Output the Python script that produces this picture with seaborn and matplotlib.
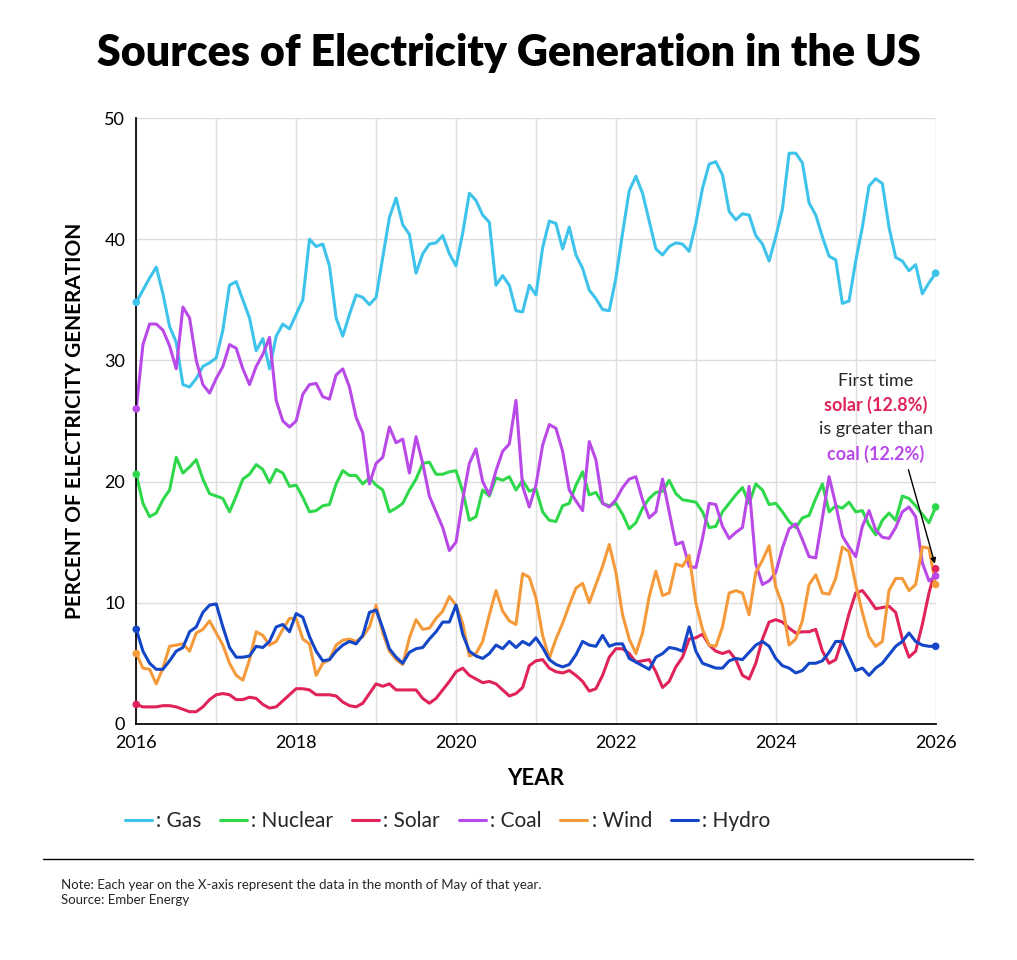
import numpy as np
import pandas as pd
import seaborn as sns
import matplotlib.pyplot as plt
from matplotlib.lines import Line2D

# monthly shares (%), Jan 2016 .. Jan 2026
gas = [34.8,35.8,36.8,37.7,35.5,32.8,31.5,28,27.8,28.5,29.5,29.8,
       30.2,32.5,36.2,36.5,35,33.5,30.8,31.8,29.3,32,33,32.6,
       33.8,35,40,39.4,39.6,37.8,33.5,32,33.8,35.4,35.2,34.6,
       35.2,38.5,41.8,43.4,41.2,40.4,37.2,38.8,39.6,39.7,40.3,38.8,
       37.8,40.5,43.8,43.2,42,41.4,36.2,37,36.2,34.1,34,36.2,
       35.4,39.3,41.5,41.3,39.2,41,38.7,37.6,35.8,35.1,34.2,34.1,
       36.8,40.5,44,45.2,43.8,41.5,39.2,38.7,39.4,39.7,39.6,39,
       41.3,44.2,46.2,46.4,45.3,42.3,41.6,42.1,42,40.3,39.6,38.2,
       40.2,42.5,47.1,47.1,46.3,43,42,40.2,38.6,38.3,34.7,34.9,
       38.2,41,44.4,45,44.6,41,38.5,38.2,37.4,37.9,35.5,36.4,
       37.2]
nuclear = [20.6,18.2,17.1,17.4,18.5,19.3,22,20.7,21.2,21.8,20.2,19,
           18.8,18.6,17.5,18.8,20.2,20.6,21.4,21,19.9,21,20.7,19.6,
           19.7,18.7,17.5,17.6,18,18.1,19.8,20.9,20.5,20.5,19.8,20.3,
           19.7,19.3,17.5,17.8,18.2,19.3,20.2,21.5,21.6,20.6,20.6,20.8,
           20.9,19.2,16.8,17.1,19.3,18.8,20.3,20.1,20.4,19.3,20.1,19.2,
           19.4,17.5,16.8,16.7,18,18.2,19.7,20.8,18.9,19.1,18.2,18,
           18.2,17.3,16.1,16.6,17.8,18.6,19.1,19.2,20.1,19,18.5,18.4,
           18.3,17.5,16.2,16.3,17.5,18.2,18.9,19.5,18.2,19.8,19.3,18.1,
           18.2,17.5,16.7,16.2,17,17.2,18.6,19.8,17.5,18,17.8,18.3,
           17.5,17.6,16.4,15.6,16.8,17.4,16.8,18.8,18.6,18,17.3,16.6,
           17.9]
solar = [1.6,1.4,1.4,1.4,1.5,1.5,1.4,1.2,1,1,1.4,2,
         2.4,2.5,2.4,2,2,2.2,2.1,1.6,1.3,1.4,1.9,2.4,
         2.9,2.9,2.8,2.4,2.4,2.4,2.3,1.8,1.5,1.4,1.7,2.5,
         3.3,3.1,3.3,2.8,2.8,2.8,2.8,2.1,1.7,2.1,2.8,3.5,
         4.3,4.6,4,3.7,3.4,3.5,3.3,2.8,2.3,2.5,3,4.8,
         5.2,5.3,4.6,4.3,4.2,4.4,4,3.5,2.7,2.9,4,5.5,
         6.2,6.2,5.8,5.1,5.2,5.3,4.3,3,3.5,4.7,5.5,7,
         7.1,7.4,6.5,6,5.8,6,5.3,4,3.7,5,7,8.4,
         8.6,8.4,7.9,7.5,7.6,7.6,7.8,6,5,5.3,7,9.1,
         10.8,11,10.3,9.5,9.6,9.7,9.2,7,5.5,6,8.2,10.8,
         12.8]
coal = [26,31.3,33,33,32.5,31.2,29.3,34.4,33.5,30,28,27.3,
        28.5,29.5,31.3,31,29.3,28,29.5,30.5,31.9,26.7,25,24.5,
        25,27.2,28,28.1,27,26.8,28.8,29.3,27.8,25.3,24,19.8,
        21.5,22,24.5,23.2,23.5,20.7,23.7,21.5,18.8,17.5,16.2,14.3,
        15,18.5,21.5,22.7,20,18.9,20.9,22.5,23.1,26.7,19.6,17.9,
        19.7,23,24.7,24.4,22.5,19.3,18.4,17.6,23.3,21.8,18.2,17.9,
        18.5,19.5,20.2,20.4,18.5,17,17.5,20.2,17.5,14.8,15,13,
        12.9,15.3,18.2,18.1,16.3,15.3,15.8,16.2,19.6,13.2,11.5,11.8,
        12.5,14.5,16.1,16.5,15.2,13.8,13.7,17,20.4,18.1,15.5,14.6,
        13.8,16.3,17.6,16,15.4,15.3,16.2,17.5,17.9,17.1,13.3,11.8,
        12.2]
wind = [5.8,4.6,4.5,3.3,4.6,6.4,6.5,6.6,6,7.5,7.8,8.5,
        7.5,6.5,5,4,3.6,5.3,7.6,7.3,6.5,6.8,7.8,8.7,
        8.7,7,6.6,4,5,5.3,6.5,6.9,7,6.8,7.2,8,
        9.8,7.5,6,5.3,4.9,7.1,8.6,7.8,7.9,8.7,9.3,10.5,
        9.8,8.3,5.6,5.8,6.8,9,11,9.3,8.5,8.2,12.4,12.1,
        10.4,7.3,5.4,7,8.3,9.8,11.2,11.6,10,11.5,13,14.8,
        12.5,9,7,5.8,7.5,10.5,12.6,10.6,10.8,13.2,13,13.9,
        10,7.8,6.5,6.4,8,10.8,11,10.8,9,12.5,13.5,14.7,
        11.3,9.8,6.5,7,8.5,11.5,12.3,10.8,10.7,12,14.6,14.2,
        11.5,9.2,7.2,6.4,6.8,11,12,12,11,11.5,14.6,14.5,
        11.5]
hydro = [7.8,6,5,4.5,4.5,5.2,6,6.3,7.6,8,9.2,9.8,
         9.9,8,6.3,5.5,5.5,5.6,6.4,6.3,6.8,8,8.2,7.6,
         9.1,8.8,7.2,6,5.2,5.3,6,6.5,6.8,6.6,7.3,9.2,
         9.4,7.9,6.2,5.5,5,5.9,6.2,6.3,7,7.6,8.4,8.4,
         9.8,7.4,6,5.6,5.4,5.8,6.5,6.2,6.8,6.3,6.8,6.5,
         7.1,6.3,5.3,4.9,4.7,4.9,5.7,6.8,6.5,6.4,7.3,6.4,
         6.6,6.6,5.4,5.1,4.8,4.5,5.5,5.8,6.3,6.2,6,8,
         6,5,4.8,4.6,4.6,5.2,5.4,5.3,5.9,6.5,6.8,6.4,
         5.4,4.8,4.6,4.2,4.4,5,5,5.2,5.9,6.8,6.8,5.6,
         4.4,4.6,4,4.6,5,5.7,6.4,6.8,7.5,6.8,6.5,6.4,
         6.4]

sources = ["Gas", "Nuclear", "Solar", "Coal", "Wind", "Hydro"]
series = [gas, nuclear, solar, coal, wind, hydro]
colors = {"Gas": "#3ec3ea", "Nuclear": "#2fd84a", "Solar": "#e0245a",
          "Coal": "#b94ae8", "Wind": "#f59a3a", "Hydro": "#1446c8"}

years = 2016 + np.arange(len(gas)) / 12
df = pd.concat([pd.DataFrame({"year": years, "pct": s, "source": n})
                for n, s in zip(sources, series)])

sns.set_theme(style="whitegrid")
plt.rcParams['font.family'] = ['Lato', 'DejaVu Sans']

fig = plt.figure(figsize=(10.17, 9.6), dpi=100)
ax = fig.add_axes([0.134, 0.246, 0.786, 0.631])
sns.lineplot(data=df, x="year", y="pct", hue="source", palette=colors,
             linewidth=2.2, ax=ax, legend=False)
ends = df[(df.year == years[0]) | (df.year == years[-1])]
dots = sns.scatterplot(data=ends, x="year", y="pct", hue="source", palette=colors,
                       s=30, ax=ax, legend=False, zorder=5, edgecolor="none")
for c in ax.collections:
    c.set_clip_on(False)

ax.set_xlim(2016, 2026)
ax.set_ylim(0, 50)
ax.set_xticks(range(2016, 2027, 2))
ax.set_xticks(range(2017, 2026, 2), minor=True)
ax.set_yticks(range(0, 51, 10))
ax.tick_params(labelsize=13, length=0, pad=8, colors="black")
ax.tick_params(which="minor", length=0)
ax.grid(color="#dddddd", linewidth=1)
ax.grid(which="minor", axis="x", color="#dddddd", linewidth=1)
for sp in ["top", "right"]:
    ax.spines[sp].set_visible(False)
ax.spines["left"].set_color("black")
ax.spines["bottom"].set_color("black")
ax.set_xlabel("YEAR", fontsize=16, fontweight="bold", labelpad=12, color="black")
ax.set_ylabel("PERCENT OF ELECTRICITY GENERATION", fontsize=15,
              fontweight="bold", labelpad=14, color="black")

fig.text(0.5, 0.945, "Sources of Electricity Generation in the US",
         ha="center", va="center", fontsize=31, fontweight="heavy", color="black")

# annotation
ax.text(2025.25, 28.3, "First time", ha="center", va="center", fontsize=13)
ax.text(2025.25, 26.3, "solar (12.8%)", ha="center", va="center", fontsize=13,
        color=colors["Solar"], fontweight="bold")
ax.text(2025.25, 24.3, "is greater than", ha="center", va="center", fontsize=13)
ax.text(2025.25, 22.3, "coal (12.2%)", ha="center", va="center", fontsize=13,
        color=colors["Coal"], fontweight="bold")
ax.annotate("", xy=(2026, 13.0), xytext=(2025.65, 21.2),
            arrowprops=dict(arrowstyle="-|>", color="black", lw=1,
                            mutation_scale=8))

handles = [Line2D([], [], color=colors[n], lw=2.2) for n in sources]
fig.legend(handles, [": " + n for n in sources], loc="center",
           bbox_to_anchor=(0.44, 0.145), ncol=6, frameon=False, fontsize=15,
           handlelength=1.3, handletextpad=0.2, columnspacing=0.9)

fig.add_artist(Line2D([0.042, 0.957], [0.105, 0.105], color="black", lw=1))
fig.text(0.06, 0.078, "Note: Each year on the X-axis represent the data in the month of May of that year.",
         fontsize=9.5, va="center")
fig.text(0.06, 0.063, "Source: Ember Energy", fontsize=9.5, va="center")

fig.savefig("out.png", dpi=100, facecolor="white")
